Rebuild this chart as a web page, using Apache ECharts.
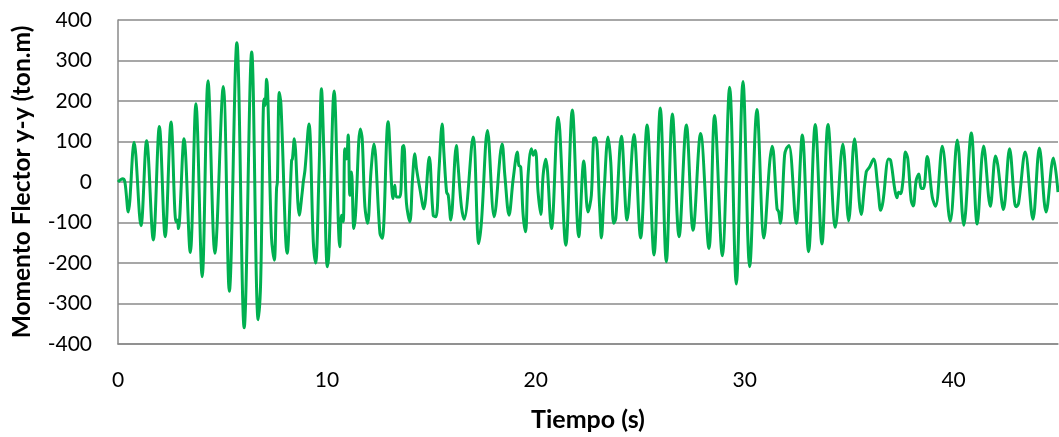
<!DOCTYPE html>
<html>
<head>
<meta charset="utf-8">
<script src="https://cdn.jsdelivr.net/npm/echarts@6/dist/echarts.min.js"></script>
<style>
  html, body { margin: 0; padding: 0; background: #ffffff; }
  #chart { width: 1059px; height: 437px; }
</style>
</head>
<body>
<div id="chart"></div>
<script>
// Bending moment time history: time (s) and moment (ton.m), sampled at peaks, troughs and kinks
const timeSec = [
  0.00, 0.22, 0.33, 0.49, 0.77, 1.10, 1.37, 1.69, 1.98, 2.26,
  2.54, 2.78, 2.84, 2.89, 3.16, 3.46, 3.73, 4.03, 4.31, 4.64,
  5.04, 5.33, 5.69, 6.04, 6.40, 6.71, 6.83, 6.99, 7.04, 7.11,
  7.35, 7.48, 7.59, 7.63, 7.72, 7.80, 8.10, 8.31, 8.35, 8.44,
  8.68, 8.82, 8.87, 8.95, 9.14, 9.35, 9.46, 9.62, 9.74, 9.86,
  10.02, 10.10, 10.35, 10.62, 10.70, 10.78, 10.86, 10.94, 11.02, 11.10,
  11.18, 11.29, 11.37, 11.60, 11.69, 11.82, 11.95, 12.11, 12.25, 12.54,
  12.65, 12.93, 13.17, 13.25, 13.33, 13.49, 13.62, 13.68, 13.81, 13.97,
  14.10, 14.21, 14.29, 14.45, 14.64, 14.90, 15.09, 15.22, 15.37, 15.52,
  15.60, 15.73, 15.81, 15.93, 16.20, 16.28, 16.44, 16.57, 17.00, 17.27,
  17.40, 17.69, 18.01, 18.39, 18.52, 18.72, 18.92, 19.12, 19.19, 19.28,
  19.39, 19.51, 19.63, 19.79, 19.87, 19.98, 20.11, 20.24, 20.35, 20.48,
  20.75, 21.07, 21.15, 21.44, 21.75, 22.06, 22.30, 22.50, 22.66, 22.77,
  22.87, 23.06, 23.14, 23.27, 23.46, 23.59, 23.73, 23.83, 24.10, 24.37,
  24.70, 25.02, 25.33, 25.66, 25.96, 26.25, 26.54, 26.86, 27.21, 27.53,
  27.89, 28.29, 28.56, 28.93, 29.28, 29.60, 29.92, 30.24, 30.59, 30.92,
  31.20, 31.32, 31.55, 31.63, 31.71, 31.91, 31.99, 32.12, 32.47, 32.76,
  33.06, 33.38, 33.70, 33.99, 34.34, 34.70, 34.98, 35.26, 35.58, 35.82,
  35.98, 36.17, 36.38, 36.51, 36.62, 36.89, 36.99, 37.18, 37.29, 37.37,
  37.46, 37.58, 37.70, 37.81, 37.97, 38.07, 38.21, 38.34, 38.45, 38.56,
  38.74, 38.98, 39.14, 39.46, 39.84, 40.18, 40.49, 40.85, 41.13, 41.44,
  41.76, 42.01, 42.12, 42.39, 42.68, 42.92, 43.00, 43.11, 43.43, 43.80,
  44.11, 44.43, 44.78, 45.00
];
const momentTonM = [
  0, 8, 0, -74, 98, -108, 102, -143, 137, -135,
  148, -98, -94, -115, 107, -174, 193, -234, 250, -176,
  236, -270, 344, -360, 321, -340, -246, 205, 189, 254,
  -139, -193, -16, 0, 221, 193, -176, 53, 57, 107,
  -82, -25, 0, 29, 143, -148, -200, 16, 230, 66,
  -209, -172, 225, -160, -82, -98, 82, 57, 116, -33,
  25, -115, -82, 131, 107, -61, -102, 25, 94, -127,
  -139, 149, -41, -8, -37, -37, 86, 90, -53, -98,
  8, 70, 33, -16, -66, 61, -82, -86, 33, 143,
  74, -25, -33, -94, 90, 41, -61, -92, 111, -152,
  -98, 127, -86, 94, 16, -82, 8, 74, 41, 37,
  -78, -123, 16, 82, 66, 78, -25, -80, 16, 56,
  -115, 160, 127, -156, 178, -135, 52, -74, -33, 107,
  109, -66, -138, -25, 111, 49, -102, -90, 113, -94,
  117, -138, 141, -180, 183, -197, 168, -135, 141, -119,
  120, -164, 164, -182, 234, -252, 248, -209, 179, -138,
  49, 88, -66, -74, -102, 66, 82, 90, -102, 116,
  -172, 142, -153, 142, -112, 94, -96, 107, -80, 25,
  37, 57, -16, -70, -49, 57, 53, -16, -39, -25,
  -29, 4, 74, 57, -45, -59, 4, 20, -16, -16,
  63, -37, -60, 88, -97, 104, -107, 121, -104, 89,
  -60, 64, 41, -68, 82, -49, -61, -53, 74, -92,
  84, -74, 59, -25
];

// Axis ticks
const timeTicks = [0, 10, 20, 30, 40];
const momentTicks = [-400, -300, -200, -100, 0, 100, 200, 300, 400];

const FONT = 'Lato, "Noto Sans", sans-serif';
const GRID_GRAY = '#8a8a8a';

const seriesData = timeSec.map((t, i) => [t, momentTonM[i]]);

const chart = echarts.init(document.getElementById('chart'), null, { renderer: 'canvas' });
chart.setOption({
  animation: false,
  backgroundColor: '#ffffff',
  grid: { left: 118, right: 1, top: 20, bottom: 93 },
  xAxis: {
    type: 'value',
    min: 0,
    max: 45,
    interval: timeTicks[1] - timeTicks[0],
    name: 'Tiempo (s)',
    nameLocation: 'middle',
    nameGap: 63,
    nameTextStyle: { fontFamily: FONT, fontWeight: 'bold', fontSize: 25, color: '#000' },
    axisLine: { show: true, onZero: false, lineStyle: { color: GRID_GRAY, width: 1.5 } },
    axisTick: { show: false },
    splitLine: { show: false },
    axisLabel: {
      fontFamily: FONT, fontSize: 21, color: '#000', margin: 26, lineHeight: 21,
      showMaxLabel: false,
      formatter: v => (timeTicks.includes(v) ? String(v) : '')
    }
  },
  yAxis: {
    type: 'value',
    min: momentTicks[0],
    max: momentTicks[momentTicks.length - 1],
    interval: momentTicks[1] - momentTicks[0],
    name: 'Momento Flector y-y (ton.m)',
    nameLocation: 'middle',
    nameGap: 83,
    nameTextStyle: { fontFamily: FONT, fontWeight: 'bold', fontSize: 24.5, color: '#000' },
    axisLine: { show: true, lineStyle: { color: GRID_GRAY, width: 1.5 } },
    axisTick: { show: false },
    splitLine: { show: true, lineStyle: { color: GRID_GRAY, width: 1.5 } },
    axisLabel: { fontFamily: FONT, fontSize: 21, color: '#000', margin: 26 }
  },
  series: [{
    type: 'line',
    data: seriesData,
    smooth: 0.35,
    showSymbol: false,
    clip: true,
    lineStyle: { color: '#00b050', width: 3 },
    itemStyle: { color: '#00b050' }
  }]
});
</script>
</body>
</html>
